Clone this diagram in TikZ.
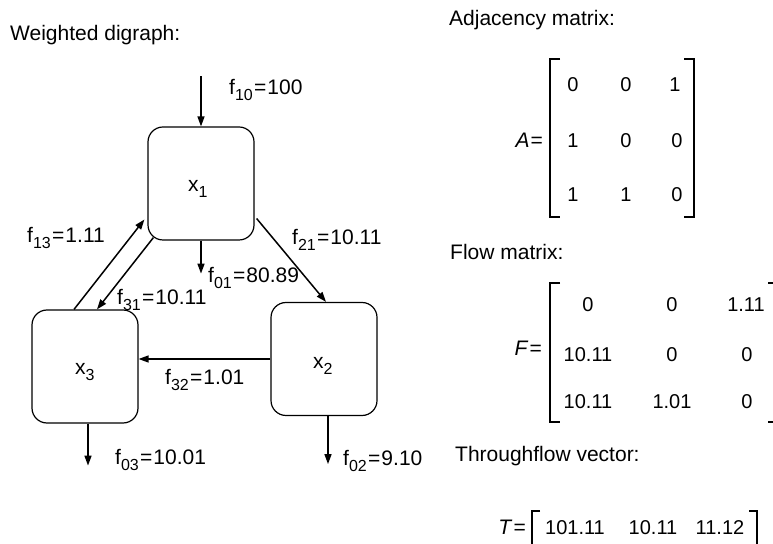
\documentclass[tikz,border=0pt]{standalone}
\usepackage{fontspec}
\setmainfont{Liberation Sans}
\usetikzlibrary{arrows.meta,calc}
\newcommand\sbs[1]{\raisebox{-6pt}{\fontsize{16}{16}\selectfont #1}}
\newcommand\eqs{\kern1.2pt=\kern1.2pt}
\begin{document}
\begin{tikzpicture}[x=1pt,y=1pt,
  box/.style={draw,line width=1.2pt,rounded corners=15pt,minimum width=106pt,minimum height=113pt,inner sep=0pt},
  arr/.style={line width=1.5pt,-{Triangle[length=10pt,width=7pt]}},
  lbl/.style={anchor=base west,inner sep=0pt,font=\fontsize{21}{25}\selectfont},
  eqn/.style={anchor=base east,inner sep=0pt,font=\fontsize{21}{25}\selectfont},
  ent/.style={anchor=base,inner sep=0pt,font=\fontsize{20}{24}\selectfont},
  brk/.style={line width=1.2pt}
]
\useasboundingbox (0,0) rectangle (773,543);

% titles
\node[lbl] (tdig) at (10,502) {Weighted digraph:};
\node[lbl] (tadj) at (449,517) {Adjacency matrix:};
\node[lbl] (tflow) at (450,283) {Flow matrix:};
\node[lbl] (tthr) at (455,81) {Throughflow vector:};

% boxes
\node[box] (x1) at (201,359.5) {};
\node[box] (x3) at (85,176.5) {};
\node[box] (x2) at (324,184) {};
\node[lbl] (x1t) at (188,351) {x\sbs{1}};
\node[lbl] (x3t) at (75,168) {x\sbs{3}};
\node[lbl] (x2t) at (313,174) {x\sbs{2}};

% connectors
\coordinate (in1) at ([yshift=50pt]x1.north);
\draw[arr] (in1) -- (x1.north);
\coordinate (out1) at ([yshift=-33pt]x1.south);
\draw[arr] (x1.south) -- (out1);
\coordinate (out3) at ([xshift=3pt,yshift=-42pt]x3.south);
\draw[arr] ([xshift=3pt]x3.south) -- (out3);
\coordinate (out2) at ([xshift=4pt,yshift=-48pt]x2.south);
\draw[arr] ([xshift=4pt]x2.south) -- (out2);
\draw[arr] (x2.west) -- (x2.west -| x3.east);
\draw[arr] ([xshift=2pt,yshift=-35pt]x1.east) -- ([xshift=2pt]x2.north);
\draw[arr] ([xshift=-11pt]x3.north) -- ([xshift=-3pt,yshift=-36pt]x1.west);
\draw[arr] ([xshift=6pt,yshift=3pt]x1.south west) -- ([xshift=12pt]x3.north);

% flow labels
\node[lbl] (l10) at (229,448) {f\sbs{10}\eqs100};
\node[lbl] (l13) at (27,300) {f\sbs{13}\eqs1.11};
\node[lbl] (l21) at (292,298) {f\sbs{21}\eqs10.11};
\node[lbl] (l01) at (208,260) {f\sbs{01}\eqs80.89};
\node[lbl] (l31) at (117,238) {f\sbs{31}\eqs10.11};
\node[lbl] (l32) at (165,158) {f\sbs{32}\eqs1.01};
\node[lbl] (l03) at (115,78) {f\sbs{03}\eqs10.01};
\node[lbl] (l02) at (343,77) {f\sbs{02}\eqs9.10};

% adjacency matrix
\node[eqn] (Aeq) at (543,395) {\textit{A}\kern1pt=};
\draw[brk] (560,484) -- (550,484) -- (550,326) -- (560,326);
\draw[brk] (684,484) -- (694,484) -- (694,326) -- (684,326);
\node[ent] (a11) at (573,451) {0};
\node[ent] (a12) at (626,451) {0};
\node[ent] (a13) at (675,451) {1};
\node[ent] (a21) at (573,395) {1};
\node[ent] (a22) at (626,395) {0};
\node[ent] (a23) at (677,395) {0};
\node[ent] (a31) at (573,341) {1};
\node[ent] (a32) at (626,341) {1};
\node[ent] (a33) at (677,341) {0};

% flow matrix
\node[eqn] (Feq) at (542,187) {\textit{F}\kern1pt=};
\draw[brk] (560,260) -- (550,260) -- (550,121) -- (560,121);
\draw[brk] (768,260) -- (776,260) -- (776,121) -- (768,121);
\node[ent] (f11) at (588,231) {0};
\node[ent] (f12) at (672,231) {0};
\node[ent] (f13) at (746,231) {1.11};
\node[ent] (f21) at (588,181) {10.11};
\node[ent] (f22) at (672,181) {0};
\node[ent] (f23) at (747,181) {0};
\node[ent] (f31) at (588,134) {10.11};
\node[ent] (f32) at (672,134) {1.01};
\node[ent] (f33) at (747,134) {0};

% throughflow vector
\node[eqn] (Teq) at (526,9) {\textit{T}\kern1pt=};
\draw[brk] (540,32) -- (532,32) -- (532,-5);
\draw[brk] (749,32) -- (757,32) -- (757,-5);
\node[ent] (t1) at (575,9) {101.11};
\node[ent] (t2) at (653,9) {10.11};
\node[ent] (t3) at (720,9) {11.12};
\end{tikzpicture}
\end{document}
